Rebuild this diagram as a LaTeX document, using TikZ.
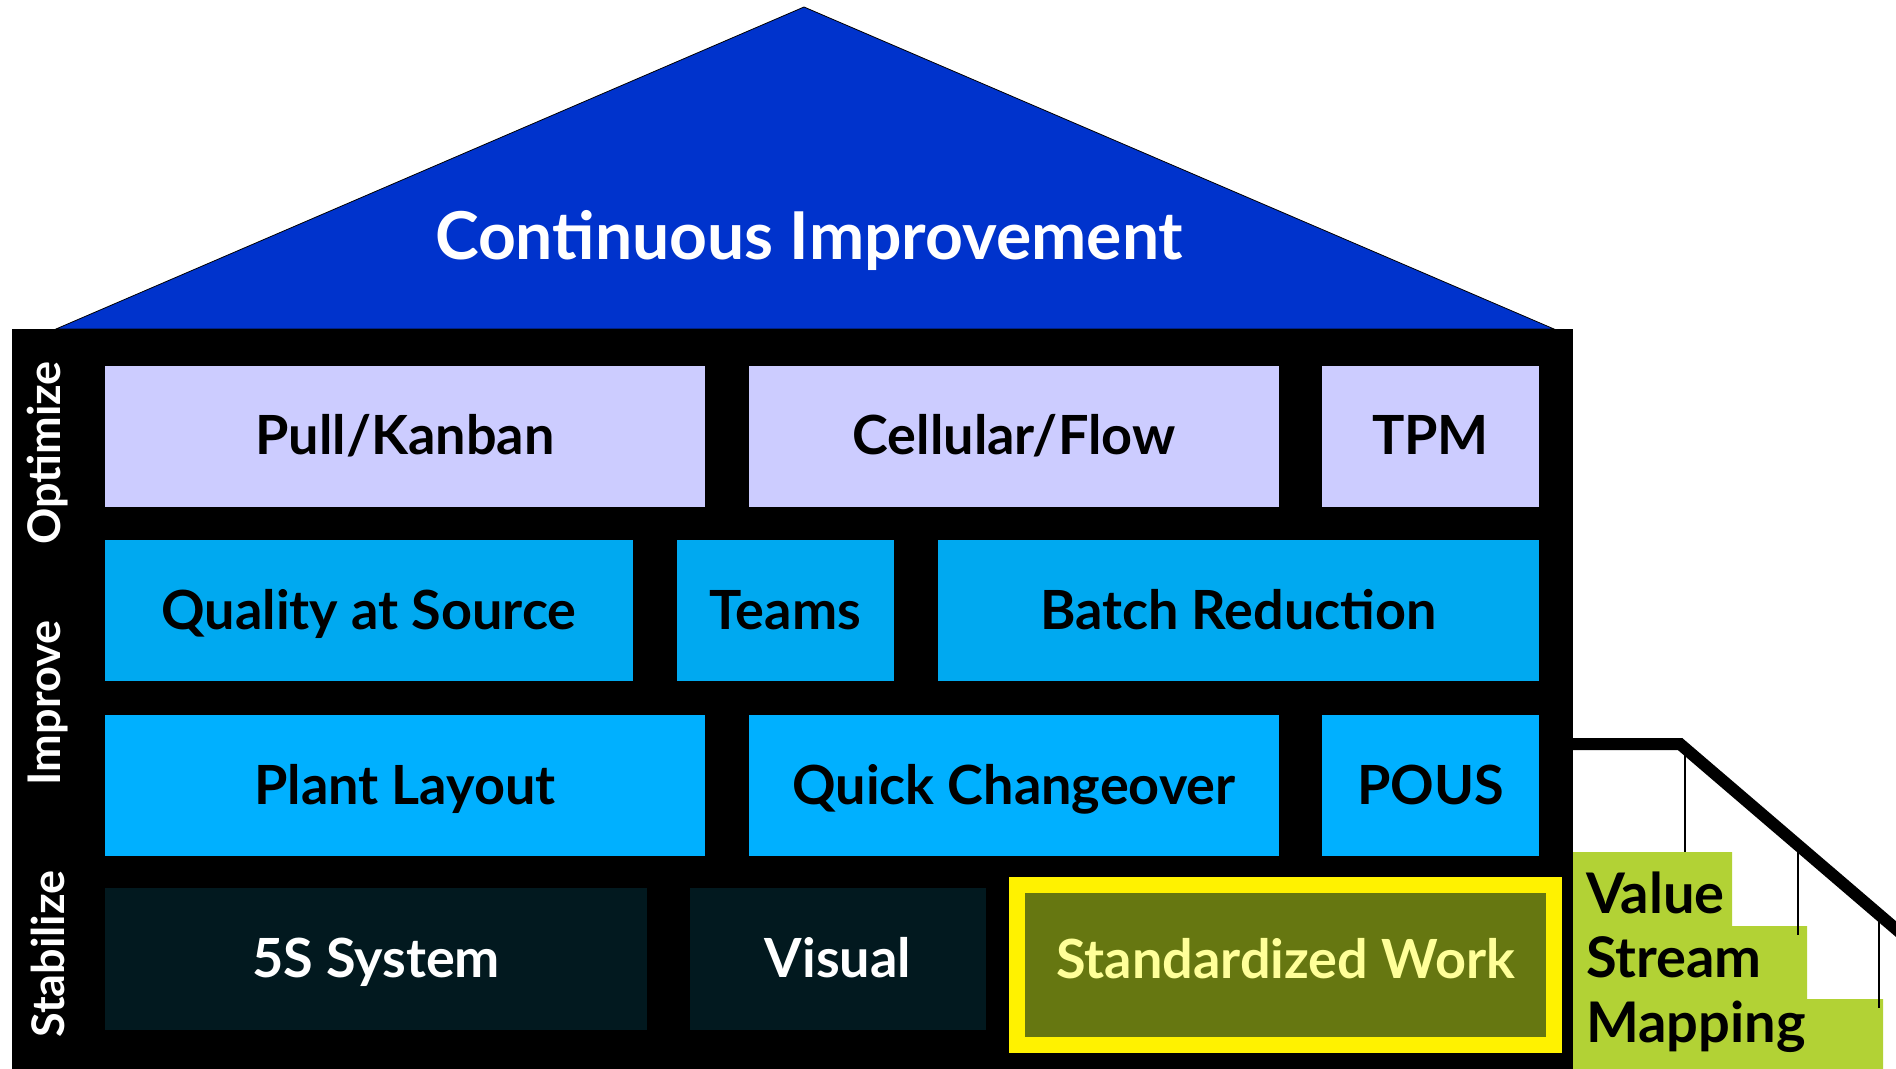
\documentclass[tikz,border=0pt]{standalone}
\usepackage{fontspec}
\setmainfont{Lato}
\usepackage{tikz}
\usepackage{xcolor}

\definecolor{roofblue}{HTML}{0033CC}
\definecolor{lavender}{HTML}{CCCCFF}
\definecolor{skyA}{HTML}{00A9F0}
\definecolor{skyB}{HTML}{00B0FF}
\definecolor{nightbox}{HTML}{02191F}
\definecolor{olivebox}{HTML}{667711}
\definecolor{paleyellow}{HTML}{FFFF99}
\definecolor{stairgreen}{HTML}{B2D235}

\tikzset{
    brick/.style={rectangle, inner sep=0pt, minimum height=70.5pt,
        text height=18.5pt, text depth=0pt, font=\fontsize{27}{31}\selectfont\bfseries},
    optbrick/.style={brick, fill=lavender},
    impbrick/.style={brick, fill=skyA},
    layoutbrick/.style={brick, fill=skyB},
    stabbrick/.style={brick, fill=nightbox, text=white},
    sidelabel/.style={rotate=90, text=white, font=\fontsize{22.5}{26}\selectfont\bfseries},
    vsmline/.style={anchor=base west, font=\fontsize{28}{32}\selectfont\bfseries}
}

\begin{document}
\begin{tikzpicture}[x=0.5pt, y=-0.5pt]
        \useasboundingbox[fill=white] (0,0) rectangle (1896,1069);

        % roof and body
        \draw[fill=roofblue, thin] (56,329) -- (804,7) -- (1554,329) -- cycle;
        \node[anchor=base, text=white, font=\fontsize{33}{38}\selectfont\bfseries] (roof) at (809,260) {Continuous Improvement};
        \fill[black] (12,329) rectangle (1573,1069);

        \node[sidelabel] (optimize) at (48,453) {Optimize};
        \node[sidelabel] (improve) at (48,703) {Improve};
        \node[sidelabel] (stabilize) at (48,954) {Stabilize};

        % optimize
        \node[optbrick, minimum width=300pt] (pull) at (405,436.5) {Pull/Kanban};
        \node[optbrick, minimum width=265pt] (cell) at (1014,436.5) {Cellular/Flow};
        \node[optbrick, minimum width=108.5pt] (tpm) at (1430.5,436.5) {TPM};

        % improve
        \node[impbrick, minimum width=264pt] (quality) at (369,610.5) {Quality at Source};
        \node[impbrick, minimum width=108.5pt] (teams) at (785.5,610.5) {Teams};
        \node[impbrick, minimum width=300.5pt] (batch) at (1238.5,610.5) {Batch Reduction};

        \node[layoutbrick, minimum width=300pt] (plant) at (405,785.5) {Plant Layout};
        \node[layoutbrick, minimum width=265pt] (quick) at (1014,785.5) {Quick Changeover};
        \node[layoutbrick, minimum width=108.5pt] (pous) at (1430.5,785.5) {POUS};

        % stabilize
        \node[stabbrick, minimum width=271pt, minimum height=71pt] (fives) at (376,959) {5S System};
        \node[stabbrick, minimum width=148pt, minimum height=71pt] (visual) at (838,959) {Visual};
        \node[brick, fill=olivebox, draw=yellow, line width=8pt, text=paleyellow, text depth=5.5pt,
            minimum width=268.5pt, minimum height=80pt] (stdwork) at (1285.5,965) {Standardized Work};

        % stairs
        \fill[stairgreen] (1573,1069) -- (1573,852) -- (1732,852) -- (1732,926) -- (1807,926)
            -- (1807,999) -- (1883,999) -- (1883,1069) -- cycle;
        \draw[line width=1pt] (1685,750) -- (1685,852);
        \draw[line width=1pt] (1798,843) -- (1798,935);
        \draw[line width=1pt] (1879,913) -- (1879,1008);
        \draw[line width=6pt, line join=miter] (1573,744) -- (1680,744) -- (1900,932.5);

        \node[vsmline] (value) at (1579,913) {Value};
        \node[vsmline] (stream) at (1579,977) {Stream};
        \node[vsmline] (mapping) at (1579,1042) {Mapping};
    \end{tikzpicture}
\end{document}
